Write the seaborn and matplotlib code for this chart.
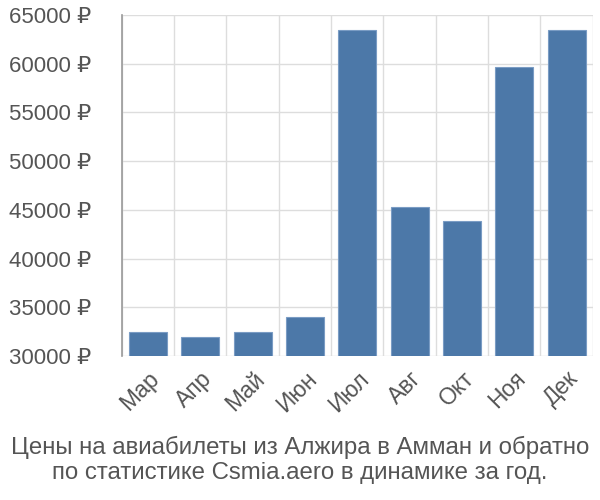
import numpy as np
import matplotlib
matplotlib.use("Agg")
import matplotlib.pyplot as plt
import pandas as pd
import seaborn as sns

months = ["Мар", "Апр", "Май", "Июн", "Июл", "Авг", "Окт", "Ноя", "Дек"]
prices = [32500, 32000, 32500, 34000, 63500, 45250, 43850, 59700, 63500]
yticks = [30000, 35000, 40000, 45000, 50000, 55000, 60000, 65000]
title = "Цены на авиабилеты из Алжира в Амман и обратно\nпо статистике Csmia.aero в динамике за год."

sns.set_style("white")
plt.rcParams['font.family'] = ['Liberation Sans', 'DejaVu Sans']

df = pd.DataFrame({"month": months, "price": prices})

fig = plt.figure(figsize=(6, 5), dpi=100)
ax = fig.add_axes([0.203, 0.288, 0.785, 0.682])
sns.barplot(x="month", y="price", data=df, color="#4c78a8", width=0.73,
            edgecolor="#7a9cc4", linewidth=0.8, saturation=1, ax=ax, zorder=3)

ax.set_ylim(30000, 65000)
ax.set_xlim(-0.5, len(months) - 0.5)
ax.set_yticks(yticks)
ax.set_yticklabels([f"{v} ₽" for v in yticks])
ax.set_xticks(np.arange(len(months)))
ax.set_xticklabels(months, rotation=45, ha="right", rotation_mode="anchor")
ax.set_xticks(np.arange(len(months) + 1) - 0.5, minor=True)

ax.grid(axis="y", color="#dddddd", linewidth=1, zorder=0)
ax.grid(axis="x", which="minor", color="#dddddd", linewidth=1, zorder=0)
ax.tick_params(axis="y", length=20, color="#dddddd", width=1, pad=2,
               labelsize=16, labelcolor="#555555")
ax.tick_params(axis="x", which="major", length=0, pad=8,
               labelsize=16.5, labelcolor="#555555")
ax.tick_params(axis="x", which="minor", length=19, color="#dddddd", width=1)

for s in ["top", "right", "bottom"]:
    ax.spines[s].set_visible(False)
ax.spines["left"].set_color("#999999")
ax.spines["left"].set_linewidth(1.2)
ax.spines["left"].set_zorder(4)
ax.set_xlabel("")
ax.set_ylabel("")

fig.text(0.5, 0.08, title, ha="center", va="center", fontsize=17.3,
         color="#555555", linespacing=1.2)

fig.savefig("out.png", dpi=100)
